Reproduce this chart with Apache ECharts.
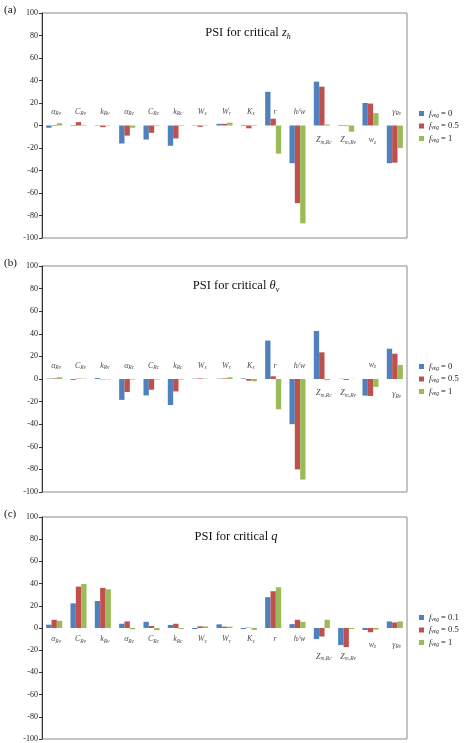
<!DOCTYPE html>
<html>
<head>
<meta charset="utf-8">
<script src="https://cdn.jsdelivr.net/npm/echarts@6/dist/echarts.min.js"></script>
<style>
  html, body { margin: 0; padding: 0; background: #fff; }
  #chart { width: 467px; height: 743px; }
</style>
</head>
<body>
<div id="chart"></div>
<script>
// PSI panels (a) z_h, (b) theta_v, (c) q — three f_veg cases each

const categories = ['αRv', 'CRv', 'kRv', 'αRc', 'CRc', 'kRc', 'Ws', 'Wr', 'Ks', 'r', 'h/w', 'Zm,Rc', 'Zm,Rv', 'wz', 'γRv'];
const catLabels = [
  '{i|α}{s|Rv}', '{i|C}{s|Rv}', '{i|k}{s|Rv}', '{i|α}{s|Rc}', '{i|C}{s|Rc}', '{i|k}{s|Rc}',
  '{i|W}{s|s}', '{i|W}{s|r}', '{i|K}{s|s}', '{i|r}', '{i|h/w}',
  '{i|Z}{s|m,Rc}', '{i|Z}{s|m,Rv}', '{i|w}{s|z}', '{i|γ}{s|Rv}'
];
const yTicks = [-100, 100, 20];

// (a) critical z_h
const zhVeg0   = [-2, -0.5, 0.3, -16, -12.5, -18, -0.3, 1.5, 0.5, 30, -33.5, 39, 0.5, 20, -33.5];
const zhVeg05  = [-0.5, 3, -1.5, -9, -6.5, -11.5, -1.2, 1.5, -2.5, 6, -69, 34.5, -0.5, 19.5, -33];
const zhVeg1   = [2, 0.5, -0.3, -2, -0.5, -0.5, -0.3, 2.5, 0.5, -25, -87, 1, -5.5, 11, -20];
const zhLabelAt = [12, 12, 12, 12, 12, 12, 12, 12, 12, 12, 12, -13, -13, -13, 12];

// (b) critical theta_v
const thVeg0   = [0.3, -0.8, 0.8, -18.5, -14.5, -23, 0.3, 0.3, 0.5, 34, -40, 42.5, 0.2, -14.7, 26.8];
const thVeg05  = [0.5, 0.3, -0.3, -11.5, -9.5, -11, 0.5, 0.5, -1.5, 2.4, -80, 23.6, -0.8, -15, 22.4];
const thVeg1   = [1.5, 0.3, -0.3, -0.5, -0.5, -0.5, 0.3, 1.5, -2, -26.8, -89, -1, 0.2, -7, 12.4];
const thLabelAt = [12, 12, 12, 12, 12, 12, 12, 12, 12, 12, 12, -12.5, -12.5, 12.5, -13.5];

// (c) critical q
const qVeg01   = [3, 22.2, 24.3, 3.8, 5.6, 2.7, -0.9, 3.3, -0.9, 27.8, 3.5, -10, -15.4, -1.8, 5.9];
const qVeg05   = [7.4, 37.3, 36.1, 5.9, 1.8, 3.8, 1.5, 1.2, 0.3, 33.1, 7.4, -7.7, -17.2, -3.8, 5];
const qVeg1    = [6.5, 39.6, 34.9, -1.2, -2, -0.9, 1.5, 1.2, -1.8, 36.7, 5.6, 7.4, -0.9, -1.5, 5.9];
const qLabelAt = [-10, -10, -10, -10, -10, -10, -10, -10, -10, -10, -10, -26, -26, -15, -15];

const COLORS = ['#4F81BD', '#C0504D', '#9BBB59'];
const SERIF = '"Liberation Serif", "DejaVu Serif", serif';

const panels = [
  { tag: '(a)', title: '{n|PSI for critical }{i|z}{s|h}', vals: [zhVeg0, zhVeg05, zhVeg1], labelAt: zhLabelAt,
    names: ['fveg = 0', 'fveg = 0.5', 'fveg = 1'], top: 13, height: 225, tx: 243 },
  { tag: '(b)', title: '{n|PSI for critical }{i|θ}{s|v}', vals: [thVeg0, thVeg05, thVeg1], labelAt: thLabelAt,
    names: ['fveg = 0', 'fveg = 0.5', 'fveg = 1'], top: 266, height: 226, tx: 231 },
  { tag: '(c)', title: '{n|PSI for critical }{i|q}', vals: [qVeg01, qVeg05, qVeg1], labelAt: qLabelAt,
    names: ['fveg = 0.1', 'fveg = 0.5', 'fveg = 1'], top: 517, height: 226, tx: 231 },
];

const subRich = {
  n: { fontFamily: SERIF, fontWeight: 'normal', fontSize: 12.5, color: '#111', lineHeight: 16 },
  i: { fontFamily: SERIF, fontWeight: 'normal', fontStyle: 'italic', fontSize: 12.5, color: '#111', lineHeight: 16 },
  s: { fontFamily: SERIF, fontWeight: 'normal', fontStyle: 'italic', fontSize: 8, color: '#111', verticalAlign: 'bottom', lineHeight: 8 },
};
const catRich = {
  i: { fontFamily: SERIF, fontStyle: 'italic', fontSize: 8, color: '#222', lineHeight: 10 },
  s: { fontFamily: SERIF, fontStyle: 'italic', fontSize: 5.5, color: '#222', verticalAlign: 'bottom', lineHeight: 5 },
};
const legRich = {
  i: { fontFamily: SERIF, fontStyle: 'italic', fontSize: 8.5, color: '#222', lineHeight: 10 },
  s: { fontFamily: SERIF, fontStyle: 'italic', fontSize: 5.5, color: '#222', verticalAlign: 'bottom', lineHeight: 5 },
  n: { fontFamily: SERIF, fontSize: 8.5, color: '#222', lineHeight: 10 },
};

const grid = [], xAxis = [], yAxis = [], title = [], legend = [], series = [], graphic = [];

panels.forEach((p, k) => {
  grid.push({ left: 42, right: 60, top: p.top, height: p.height, show: true,
    borderColor: '#8a8a8a', borderWidth: 1, backgroundColor: '#fff' });
  xAxis.push({ type: 'category', gridIndex: k, data: categories,
    axisLine: { show: false }, axisTick: { show: false }, axisLabel: { show: false } });
  yAxis.push({ type: 'value', gridIndex: k, min: yTicks[0], max: yTicks[1], interval: yTicks[2],
    splitLine: { show: false },
    axisLine: { show: true, lineStyle: { color: '#333' } },
    axisTick: { show: true, length: 3, lineStyle: { color: '#333' } },
    axisLabel: { fontFamily: SERIF, fontSize: 8, color: '#222', margin: 4 } });
  title.push({ text: p.title, left: p.tx, top: p.top + 7, textAlign: 'center',
    textStyle: { fontWeight: 'normal', rich: subRich } });
  graphic.push({ type: 'text', left: 4, top: p.top - 8,
    style: { text: p.tag, font: '11px ' + SERIF, fill: '#111' } });
  legend.push({ orient: 'vertical', left: 414, top: p.top + 91, itemWidth: 5, itemHeight: 5, itemGap: 3,
    icon: 'rect', data: p.names,
    formatter: n => '{i|f}{s|veg}{n| ' + n.split(' ').slice(1).join(' ') + '}',
    textStyle: { rich: legRich } });
  p.vals.forEach((v, j) => {
    series.push({ name: p.names[j], type: 'bar', xAxisIndex: k, yAxisIndex: k, data: v,
      barGap: '0%', barCategoryGap: '34%', itemStyle: { color: COLORS[j] } });
  });
  series.push({ type: 'scatter', xAxisIndex: k, yAxisIndex: k, data: p.labelAt, symbolSize: 0,
    silent: true, z: 5,
    label: { show: true, position: 'inside', offset: [2, 0],
      formatter: d => catLabels[d.dataIndex], rich: catRich } });
});

const chart = echarts.init(document.getElementById('chart'), null, { renderer: 'canvas' });
chart.setOption({ animation: false, grid, xAxis, yAxis, title, legend, series, graphic });
</script>
</body>
</html>
